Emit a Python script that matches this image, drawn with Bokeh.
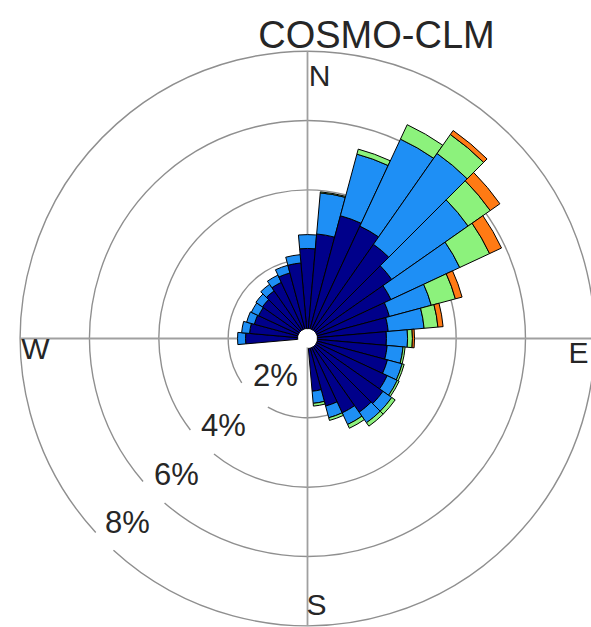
import numpy as np
from bokeh.plotting import figure
from bokeh.models import ColumnDataSource, Range1d
from bokeh.core.properties import value
from bokeh.embed import file_html
from bokeh.resources import INLINE

# ---- data (percent frequency per direction and speed class) ----
directions = [0, 10, 20, 30, 40, 50, 60, 70, 80, 90, 100, 110, 120, 130, 140, 150, 160, 170,
              180, 190, 200, 210, 220, 230, 240, 250, 260, 270, 280, 290, 300, 310, 320, 330, 340, 350]
class_navy = [2.31, 2.74, 3.38, 3.29, 3.03, 2.68, 2.37, 2.16, 2.05, 1.99, 2.02, 2.10, 2.25, 2.37, 2.31, 2.08, 1.73, 1.24,
              0, 0, 0, 0, 0, 0, 0, 0, 0, 1.50, 1.39, 1.30, 1.27, 1.30, 1.39, 1.50, 1.67, 1.90]
class_blue = [0.40, 1.19, 1.84, 2.77, 3.20, 2.69, 2.19, 1.25, 1.04, 0.61, 0.46, 0.44, 0.32, 0.31, 0.37, 0.37, 0.35, 0.35,
              0, 0, 0, 0, 0, 0, 0, 0, 0, 0.23, 0.23, 0.23, 0.23, 0.23, 0.23, 0.23, 0.23, 0.24]
class_green = [0, 0.03, 0.15, 0.46, 0.67, 0.78, 0.95, 0.72, 0.40, 0.14, 0.06, 0.06, 0.06, 0.12, 0.12, 0.12, 0.08, 0.08,
               0, 0, 0, 0, 0, 0, 0, 0, 0, 0, 0, 0, 0, 0, 0, 0, 0, 0]
class_orange = [0, 0, 0, 0, 0.14, 0.34, 0.38, 0.20, 0.15, 0.06, 0, 0, 0, 0, 0, 0, 0, 0,
                0, 0, 0, 0, 0, 0, 0, 0, 0, 0, 0, 0, 0, 0, 0, 0, 0, 0]
class_colors = ["#00008a", "#1e8ff5", "#8cf27c", "#ff7a14"]
ring_values = [2, 4, 6, 8]
ring_labels = ["2%", "4%", "6%", "8%"]
cardinal_labels = ["N", "E", "S", "W"]
title_text = "COSMO-CLM"

# ---- geometry ----
PX = 34.65          # pixels per percent
W, H = 591, 627
cx, cy = 307, 338   # centre in plot pixels (from top-left)
off = 10 / PX       # central hole radius

p = figure(width=W, height=H, output_backend="svg", toolbar_location=None,
           x_range=Range1d(-cx / PX, (W - cx) / PX), y_range=Range1d(-(H - cy) / PX, cy / PX),
           min_border=0)
p.axis.visible = False
p.grid.visible = False
p.outline_line_color = None
p.background_fill_color = "white"
p.border_fill_color = "white"

# rings with gaps where labels sit (gap in math degrees)
gaps = [(214, 240), (218, 231), (221, 229), (222.5, 227.5)]
for rv, (g0, g1) in zip(ring_values, gaps):
    p.arc(x=0, y=0, radius=off + rv, start_angle=g1, end_angle=g0 + 360,
          start_angle_units="deg", end_angle_units="deg", radius_units="data",
          line_color="#8f8f8f", line_width=1.4)

R = off + ring_values[-1]
p.segment(x0=[0, -R], y0=[-R, 0], x1=[0, R + 2], y1=[R, 0], line_color="#a0a0a0", line_width=1.8)

# stacked wedges
cls = [class_navy, class_blue, class_green, class_orange]
inner, outer, start, end, colors = [], [], [], [], []
for i, d in enumerate(directions):
    cum = 0.0
    for k in range(len(cls)):
        v = cls[k][i]
        if v <= 0:
            continue
        inner.append(off + cum)
        outer.append(off + cum + v)
        start.append(90 - d - 5)
        end.append(90 - d + 5)
        colors.append(class_colors[k])
        cum += v
src = ColumnDataSource(dict(inner=inner, outer=outer, start=start, end=end, color=colors,
                            x=[0] * len(inner), y=[0] * len(inner)))
p.annular_wedge(x="x", y="y", inner_radius="inner", outer_radius="outer",
                start_angle="start", end_angle="end", start_angle_units="deg", end_angle_units="deg",
                fill_color="color", line_color="black", line_width=1.0, source=src)

p.scatter(x=[0], y=[0], size=2 * 10 - 2, fill_color="white", line_color=None)

font = value("Liberation Sans")

def dx(px):
    return (px - cx) / PX

def dy(py):
    return (cy - py) / PX

# ring labels
lab_pos = [(275, 375), (223, 425), (176, 474), (127, 522)]
p.text(x=[dx(a) for a, b in lab_pos], y=[dy(b) for a, b in lab_pos], text=ring_labels,
       text_align="center", text_baseline="middle", text_font_size="31px", text_font=font,
       text_color="#262626")

# cardinal labels
card_pos = [(319, 75), (578, 352), (316, 604), (35, 348)]
p.text(x=[dx(a) for a, b in card_pos], y=[dy(b) for a, b in card_pos], text=cardinal_labels,
       text_align="center", text_baseline="middle", text_font_size="30px", text_font=font,
       text_color="#262626")

# title
p.text(x=[dx(376)], y=[dy(34)], text=[title_text], text_align="center", text_baseline="middle",
       text_font_size="38px", text_font=font, text_color="#262626")

open("out.html", "w").write(file_html(p, INLINE))
